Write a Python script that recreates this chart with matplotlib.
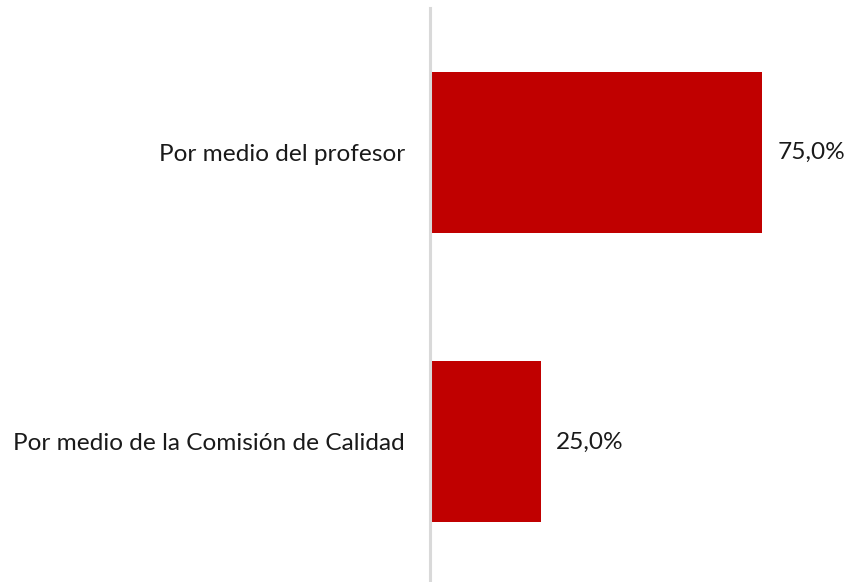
import matplotlib.pyplot as plt

categorias = ["Por medio de la Comisión de Calidad", "Por medio del profesor"]
valores = [25.0, 75.0]
etiquetas = ["25,0%", "75,0%"]

plt.rcParams['font.family'] = ['Lato', 'DejaVu Sans']

fig = plt.figure(figsize=(8.49, 5.82), dpi=100)
ax = fig.add_axes([430 / 849, 0, 419 / 849, 574 / 582])

pos = list(range(len(categorias)))
ax.barh(pos, valores, height=0.556, color='#C00000')

for p, v, t in zip(pos, valores, etiquetas):
    ax.text(v + 3.4, p, t, va='center', ha='left', fontsize=17.6, color='#1a1a1a')

ax.set_xlim(0, 419 / 443 * 100)
ax.set_ylim(-0.484, 1.499)
ax.set_yticks(pos)
ax.set_yticklabels(categorias, fontsize=17.6, color='#1a1a1a')
ax.tick_params(axis='y', length=0, pad=18)
ax.set_xticks([])

for s in ['top', 'right', 'bottom']:
    ax.spines[s].set_visible(False)
ax.spines['left'].set_color('#d9d9d9')
ax.spines['left'].set_linewidth(2.2)

fig.savefig('out.png', dpi=100)
